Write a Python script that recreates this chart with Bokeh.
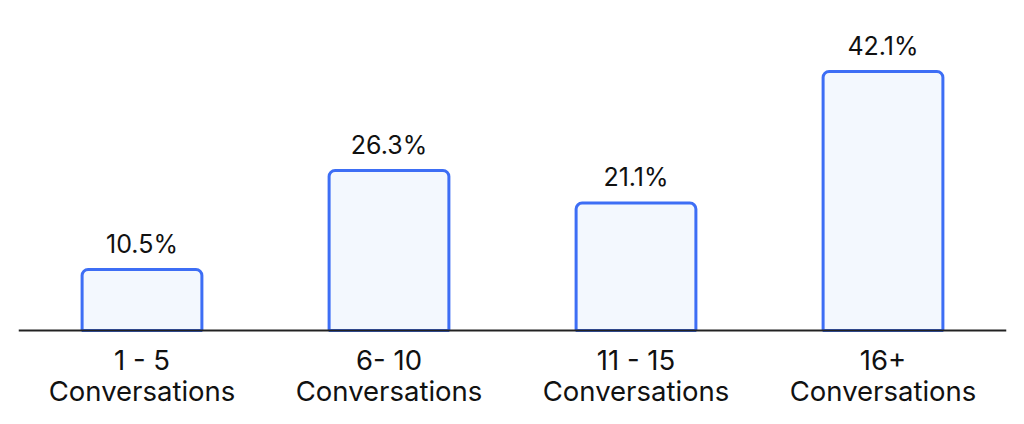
from bokeh.plotting import figure
from bokeh.models import FactorRange, Range1d, Span, ColumnDataSource
from bokeh.core.properties import value
from bokeh.embed import file_html
from bokeh.resources import INLINE

categories = ["1 - 5", "6- 10", "11 - 15", "16+"]
label_line2 = ["Conversations", "Conversations", "Conversations", "Conversations"]
shares = [10.5, 26.3, 21.1, 42.1]
value_labels = ["10.5%", "26.3%", "21.1%", "42.1%"]

BASE = 0.77
LABEL_Y = -5.5

src = ColumnDataSource(dict(
    x=categories, top=shares, lab=value_labels, line2=label_line2,
    ly=[LABEL_Y] * len(categories),
))

# frame: x 18..1006, y 0..416 ; zero at y=334.8, 6.266 px per unit
p = figure(
    x_range=FactorRange(*categories, range_padding=0),
    y_range=Range1d(-81.2 / 6.266, 334.8 / 6.266),
    width=1016, height=416,
    output_backend="svg", toolbar_location=None,
    min_border_left=18, min_border_right=10, min_border_top=0, min_border_bottom=0,
)
p.axis.visible = False
p.grid.visible = False
p.outline_line_color = None
p.background_fill_color = "white"
p.border_fill_color = "white"

p.vbar(x="x", top="top", bottom=BASE, width=0.485, source=src,
       fill_color="#f3f8fe", line_color="#3d6ef5", line_width=3,
       border_radius=(6, 6, 0, 0))

p.add_layout(Span(location=BASE, dimension="width", line_color="#222222", line_width=2))

p.text(x="x", y="top", text="lab", source=src, y_offset=-26,
       text_align="center", text_baseline="alphabetic",
       text_font=value("Inter"), text_font_size="25px", text_color="#111111")

p.text(x="x", y="ly", text="x", source=src, y_offset=-10,
       text_align="center", text_baseline="alphabetic",
       text_font=value("Inter"), text_font_size="27.5px", text_color="#111111")
p.text(x="x", y="ly", text="line2", source=src, y_offset=21,
       text_align="center", text_baseline="alphabetic",
       text_font=value("Inter"), text_font_size="27.5px", text_color="#111111")

open("out.html", "w").write(file_html(p, INLINE))
